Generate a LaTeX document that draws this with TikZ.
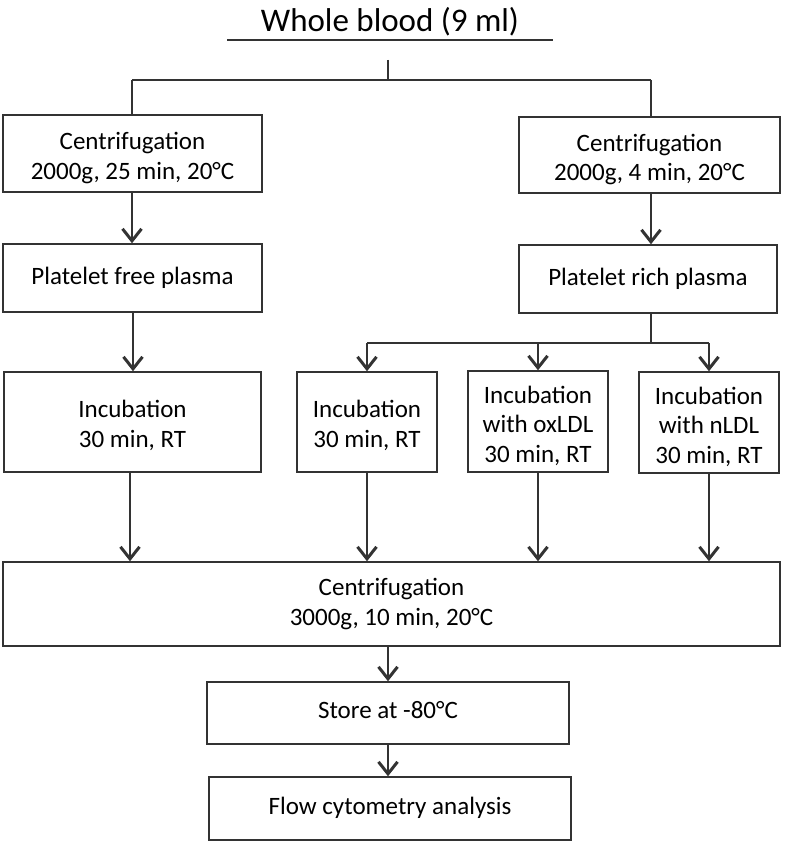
\documentclass[tikz,border=0pt]{standalone}
\usepackage{fontspec}
\setmainfont{Carlito}
\usetikzlibrary{arrows.meta}
\newcommand\lowtxt[1]{\rule{0pt}{#1}}
\begin{document}
\begin{tikzpicture}[x=1pt,y=-1pt,
  box/.style={draw=black!80, line width=1.5pt, inner sep=0pt, align=center,
    font=\fontsize{25}{29.5}\selectfont},
  conn/.style={draw=black!80, line width=1.5pt},
  arr/.style={conn, -{Straight Barb[length=12pt,width=19pt,line width=3pt]}}]
\useasboundingbox[fill=white] (0,0) rectangle (784,845);
% title
\node[font=\fontsize{33}{38}\selectfont, inner sep=0pt] (title) at (390,22) {Whole blood (9 ml)};
\coordinate (ul1) at (227,40);
\coordinate (ul2) at (553,40);
\draw[conn] (ul1) -- (ul2);
\coordinate (t0) at (388,60);
\coordinate (t1) at (388,80);
\coordinate (tl) at (132,80);
\coordinate (tr) at (651,80);
% boxes
\node[box, minimum width=259pt, minimum height=77pt] (c1) at (132.5,153.5) {\lowtxt{26pt}Centrifugation\\2000g, 25 min, 20°C};
\node[box, minimum width=261pt, minimum height=76pt] (c2) at (649.5,155) {\lowtxt{26pt}Centrifugation\\2000g, 4 min, 20°C};
\node[box, minimum width=259pt, minimum height=68pt] (pfp) at (132.5,278) {Platelet free plasma};
\node[box, minimum width=258pt, minimum height=68pt] (prp) at (648,279) {Platelet rich plasma};
\node[box, minimum width=257pt, minimum height=100pt] (i1) at (132.5,422) {\lowtxt{24pt}Incubation\\30 min, RT};
\node[box, minimum width=140pt, minimum height=100pt] (i2) at (367,422) {\lowtxt{24pt}Incubation\\30 min, RT};
\node[box, minimum width=140pt, minimum height=101pt] (i3) at (538,421.5) {\lowtxt{26pt}Incubation\\with oxLDL\\30 min, RT};
\node[box, minimum width=140pt, minimum height=101pt] (i4) at (709,422.5) {\lowtxt{26pt}Incubation\\with nLDL\\30 min, RT};
\node[box, minimum width=777pt, minimum height=84pt] (c3) at (391.5,604) {Centrifugation\\3000g, 10 min, 20°C};
\node[box, minimum width=362pt, minimum height=62pt] (st) at (388,713) {\raisebox{7pt}{Store at -80°C}};
\node[box, minimum width=362pt, minimum height=63pt] (fl) at (390,808.5) {\raisebox{5pt}{Flow cytometry analysis}};
% connectors
\draw[conn] (t0) -- (t1);
\draw[conn] (tl) -- (tr);
\draw[conn] (tl) -- (c1.north -| tl);
\draw[conn] (tr) -- (c2.north -| tr);
\draw[arr] (c1.south -| tl) -- (pfp.north -| tl);
\draw[arr] (c2.south -| tr) -- (prp.north -| tr);
\draw[arr] (pfp.south -| 133,0) -- (i1.north -| 133,0);
\coordinate (sp) at (651,343);
\draw[conn] (prp.south -| sp) -- (sp);
\draw[conn] (i2.north |- sp) -- (i4.north |- sp);
\draw[arr] (i2.north |- sp) -- (i2.north);
\draw[arr] (i3.north |- sp) -- (i3.north);
\draw[arr] (i4.north |- sp) -- (i4.north);
\draw[arr] (i1.south -| 130,0) -- (c3.north -| 130,0);
\draw[arr] (i2.south) -- (c3.north -| i2.south);
\draw[arr] (i3.south) -- (c3.north -| i3.south);
\draw[arr] (i4.south) -- (c3.north -| i4.south);
\draw[arr] (c3.south -| st.north) -- (st.north);
\draw[arr] (st.south) -- (fl.north -| st.south);
\end{tikzpicture}
\end{document}
